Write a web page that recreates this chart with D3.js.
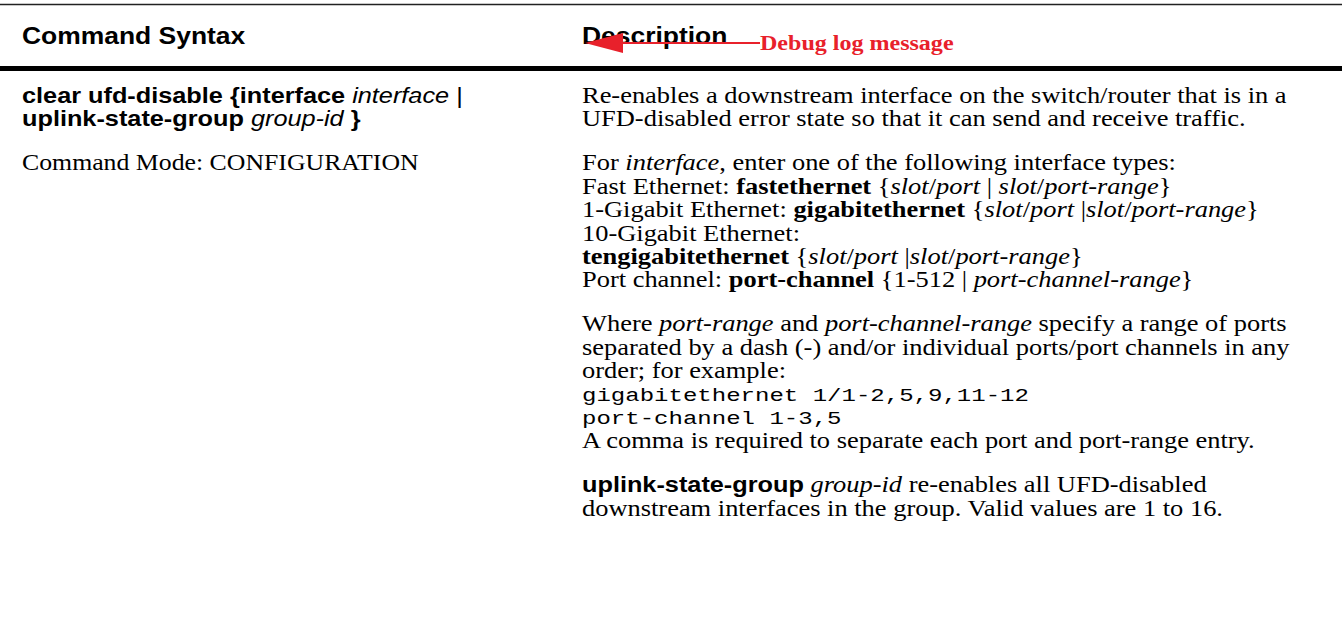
<!DOCTYPE html>
<html><head><meta charset="utf-8">
<script src="https://cdn.jsdelivr.net/npm/d3@7"></script>
<style>html,body{margin:0;padding:0;background:#fff;}</style>
</head><body>
<script>
// ---- content ----
const headers = ["Command Syntax", "Description"];
const annotationText = "Debug log message";
// style codes: r serif, i serif italic, b serif bold, S sans bold, si sans italic, s sans, m mono
const leftLines = [
  [["clear ufd-disable {interface ", "S"], ["interface", "si"], [" |", "s"]],
  [["uplink-state-group ", "S"], ["group-id", "si"], [" }", "S"]]
];
const leftMode = [[["Command Mode: CONFIGURATION", "r"]]];
const descParas = [
  [
    [["Re-enables a downstream interface on the switch/router that is in a", "r"]],
    [["UFD-disabled error state so that it can send and receive traffic.", "r"]]
  ],
  [
    [["For ", "r"], ["interface", "i"], [", enter one of the following interface types:", "r"]],
    [["Fast Ethernet: ", "r"], ["fastethernet", "b"], [" {", "r"], ["slot", "i"], ["/", "r"], ["port", "i"], [" | ", "r"], ["slot", "i"], ["/", "r"], ["port-range", "i"], ["}", "r"]],
    [["1-Gigabit Ethernet: ", "r"], ["gigabitethernet", "b"], [" {", "r"], ["slot", "i"], ["/", "r"], ["port", "i"], [" |", "r"], ["slot", "i"], ["/", "r"], ["port-range", "i"], ["}", "r"]],
    [["10-Gigabit Ethernet:", "r"]],
    [["tengigabitethernet", "b"], [" {", "r"], ["slot", "i"], ["/", "r"], ["port", "i"], [" |", "r"], ["slot", "i"], ["/", "r"], ["port-range", "i"], ["}", "r"]],
    [["Port channel: ", "r"], ["port-channel", "b"], [" {1-512 | ", "r"], ["port-channel-range", "i"], ["}", "r"]]
  ],
  [
    [["Where ", "r"], ["port-range", "i"], [" and ", "r"], ["port-channel-range", "i"], [" specify a range of ports", "r"]],
    [["separated by a dash (-) and/or individual ports/port channels in any", "r"]],
    [["order; for example:", "r"]],
    [["gigabitethernet 1/1-2,5,9,11-12", "m"]],
    [["port-channel 1-3,5", "m"]],
    [["A comma is required to separate each port and port-range entry.", "r"]]
  ],
  [
    [["uplink-state-group", "S"], [" ", "r"], ["group-id", "i"], [" re-enables all UFD-disabled", "r"]],
    [["downstream interfaces in the group. Valid values are 1 to 16.", "r"]]
  ]
];

// ---- layout ----
const W = 1342, H = 617;
const SX = 1.15;          // horizontal stretch of the source rendering
const colX = [22, 582];
const headerBaseline = 44;
const bodyTop = 103, lineH = 23.4, paraGap = 20.6;

const serif = "'Liberation Serif','Times New Roman',serif";
const sans = "'Liberation Sans',Arial,sans-serif";
const mono = "'Liberation Mono','Courier New',monospace";
const styles = {
  r:  {family: serif, weight: 400, st: "normal", size: 23},
  i:  {family: serif, weight: 400, st: "italic", size: 23},
  b:  {family: serif, weight: 700, st: "normal", size: 23},
  S:  {family: sans, weight: 700, st: "normal", size: 22},
  si: {family: sans, weight: 400, st: "italic", size: 22},
  s:  {family: sans, weight: 400, st: "normal", size: 22},
  H:  {family: sans, weight: 700, st: "normal", size: 23},
  m:  {family: mono, weight: 400, st: "normal", size: 19}
};

const svg = d3.select("body").append("svg").attr("width", W).attr("height", H)
  .style("display", "block");

// rules
svg.append("line").attr("x1", 0).attr("x2", W).attr("y1", 4.5).attr("y2", 4.5)
  .attr("stroke", "#222").attr("stroke-width", 1.5);
svg.append("line").attr("x1", 0).attr("x2", W).attr("y1", 68.5).attr("y2", 68.5)
  .attr("stroke", "#000").attr("stroke-width", 5);

function drawLine(g, segs, x, y, scale) {
  const isMono = segs.every(s => s[1] === "m");
  const k = SX * (scale || 1) * (isMono ? 1.1 : 1);
  const yy = isMono ? y - 1 : y;
  const t = g.append("text").attr("transform", `translate(${x},${yy}) scale(${k},1)`)
    .attr("fill", "#000").style("white-space", "pre").attr("xml:space", "preserve");
  segs.forEach(([txt, code]) => {
    const s = styles[code];
    t.append("tspan").text(txt)
      .style("font-family", s.family).style("font-weight", s.weight)
      .style("font-style", s.st).style("font-size", s.size + "px");
  });
  return t;
}

// headers
headers.forEach((h, k) => drawLine(svg, [[h, "H"]], colX[k], headerBaseline));

// body line positions via a scale over line index, plus paragraph gaps
const yLine = d3.scaleLinear().domain([0, 1]).range([bodyTop, bodyTop + lineH]);
function yOf(lineIdx, paraIdx) { return yLine(lineIdx) + paraIdx * paraGap; }

const gL = svg.append("g");
leftLines.forEach((ln, k) => drawLine(gL, ln, colX[0], yOf(k, 0)));
leftMode.forEach((ln, k) => drawLine(gL, ln, colX[0], yOf(leftLines.length + k, 1), 0.975));

const gR = svg.append("g");
let li = 0;
descParas.forEach((para, p) => {
  para.forEach(ln => { drawLine(gR, ln, colX[1], yOf(li, p)); li++; });
});

// annotation arrow
const red = "#e8212b";
const arrowY = 43, tipX = 585, headX = 623, tailX = 760;
svg.append("line").attr("x1", headX - 2).attr("x2", tailX).attr("y1", arrowY).attr("y2", arrowY)
  .attr("stroke", red).attr("stroke-width", 2);
svg.append("path").attr("d", d3.line()([[tipX, arrowY], [headX, arrowY - 10], [headX, arrowY + 10]]) + "Z")
  .attr("fill", red);
svg.append("text").attr("transform", `translate(${tailX},50) scale(${SX},1)`)
  .attr("fill", red).style("font-family", serif)
  .style("font-weight", 700).style("font-size", "20.9px").text(annotationText);
</script>
</body></html>
